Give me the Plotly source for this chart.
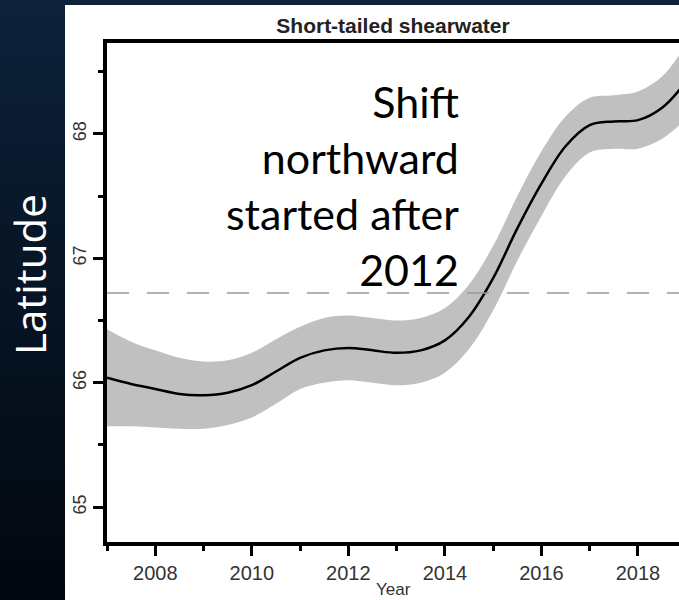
import plotly.graph_objects as go

# ---- data ----
years = [2007.0, 2007.5, 2008.0, 2008.5, 2009.0, 2009.5, 2010.0, 2010.5, 2011.0, 2011.5,
         2012.0, 2012.5, 2013.0, 2013.5, 2014.0, 2014.5, 2015.0, 2015.5, 2016.0, 2016.5,
         2017.0, 2017.5, 2018.0, 2018.5, 2019.0]
lat_mean = [66.04, 65.99, 65.95, 65.91, 65.90, 65.92, 65.98, 66.09, 66.20, 66.26,
            66.28, 66.26, 66.24, 66.26, 66.34, 66.53, 66.84, 67.24, 67.60, 67.90,
            68.07, 68.10, 68.11, 68.21, 68.42]
lat_upper = [66.43, 66.33, 66.26, 66.20, 66.17, 66.18, 66.24, 66.35, 66.45, 66.52,
             66.54, 66.52, 66.50, 66.52, 66.60, 66.79, 67.10, 67.50, 67.86, 68.14,
             68.29, 68.31, 68.34, 68.46, 68.72]
lat_lower = [65.65, 65.65, 65.64, 65.63, 65.63, 65.66, 65.72, 65.83, 65.95, 66.00,
             66.02, 66.00, 65.98, 66.00, 66.08, 66.27, 66.58, 66.98, 67.34, 67.66,
             67.85, 67.88, 67.88, 67.96, 68.12]
reference_lat = 66.72
x_range = [2007.0, 2018.85]
y_range = [64.72, 68.73]
title_text = "Short-tailed shearwater"
x_label = "Year"
y_label = "Latitude"
note_text = "Shift<br>northward<br>started after<br>2012"

W, H = 679, 600
ML, MR, MT, MB = 107, 0, 43, 58
pw = W - ML - MR
ph = H - MT - MB

fig = go.Figure()

# confidence band
fig.add_trace(go.Scatter(x=years, y=lat_upper, mode="lines", line=dict(width=0, shape="spline"),
                         hoverinfo="skip", showlegend=False))
fig.add_trace(go.Scatter(x=years, y=lat_lower, mode="lines", line=dict(width=0, shape="spline"),
                         fill="tonexty", fillcolor="#c0c0c0", hoverinfo="skip", showlegend=False))
# mean line
fig.add_trace(go.Scatter(x=years, y=lat_mean, mode="lines",
                         line=dict(color="black", width=2.5, shape="spline"), showlegend=False))

shapes = []
# background gradient (dark navy)
n = 40
top = (13, 33, 57)
bot = (1, 7, 14)
for i in range(n):
    t = i / (n - 1)
    c = tuple(int(round(top[k] + (bot[k] - top[k]) * t)) for k in range(3))
    py0 = i / n * H
    py1 = (i + 1) / n * H
    shapes.append(dict(type="rect", xref="paper", yref="paper", layer="below",
                       x0=-ML / pw - 0.01, x1=1.01,
                       y0=(H - MB - py1) / ph - 0.002, y1=(H - MB - py0) / ph + 0.002,
                       line=dict(width=0), fillcolor="rgb(%d,%d,%d)" % c))
# white panel
shapes.append(dict(type="rect", xref="paper", yref="paper", layer="below",
                   x0=(65 - ML) / pw, x1=1.01, y0=-(MB + 2) / ph, y1=(H - MB - 5) / ph,
                   line=dict(width=0), fillcolor="white"))
# dashed reference line
shapes.append(dict(type="line", xref="paper", yref="y", x0=0, x1=1, y0=reference_lat, y1=reference_lat,
                   line=dict(color="#999999", width=1.5, dash="22px,18px"), layer="above"))

fig.update_layout(
    width=W, height=H,
    margin=dict(l=ML, r=MR, t=MT, b=MB, pad=0),
    paper_bgcolor="#071527",
    plot_bgcolor="white",
    shapes=shapes,
    showlegend=False,
    title=dict(text="<b>" + title_text + "</b>", x=(ML + pw / 2) / W, xanchor="center",
               y=1 - 26 / H, yanchor="middle",
               font=dict(family="Liberation Sans, Arial", size=21, color="#222222")),
    xaxis=dict(range=x_range, showgrid=False, zeroline=False, showline=True, linecolor="black",
               linewidth=3.5, mirror=True, ticks="outside", ticklen=10, tickwidth=2.5,
               tickcolor="black", dtick=2, tick0=0,
               minor=dict(dtick=1, tick0=0, ticks="outside", ticklen=5, tickwidth=2.5, tickcolor="black"),
               tickfont=dict(family="Liberation Sans, Arial", size=20, color="#333333")),
    yaxis=dict(range=y_range, showgrid=False, zeroline=False, showline=True, linecolor="black",
               linewidth=3.5, mirror=False, ticks="outside", ticklen=10, tickwidth=2.5,
               tickcolor="black", dtick=1, tick0=0, tickangle=-90,
               minor=dict(dtick=0.5, tick0=0, ticks="outside", ticklen=5, tickwidth=2.5, tickcolor="black"),
               tickfont=dict(family="Liberation Sans, Arial", size=18, color="#333333")),
    annotations=[
        dict(text=x_label, xref="paper", yref="paper", x=(393 - ML) / pw, y=(H - MB - 589) / ph,
             xanchor="center", yanchor="middle", showarrow=False,
             font=dict(family="Liberation Sans, Arial", size=17, color="#333333")),
        dict(text=y_label, xref="paper", yref="paper", x=(29 - ML) / pw, y=(H - MB - 275) / ph,
             xanchor="center", yanchor="middle", textangle=-90, showarrow=False,
             font=dict(family="Open Sans", size=42, color="white")),
        dict(text=note_text, xref="paper", yref="paper", x=(461 - ML) / pw, y=(H - MB - 186) / ph,
             xanchor="right", yanchor="middle", align="right", showarrow=False,
             font=dict(family="Lato", size=43, color="black")),
    ],
)

fig.write_html("out.html")
